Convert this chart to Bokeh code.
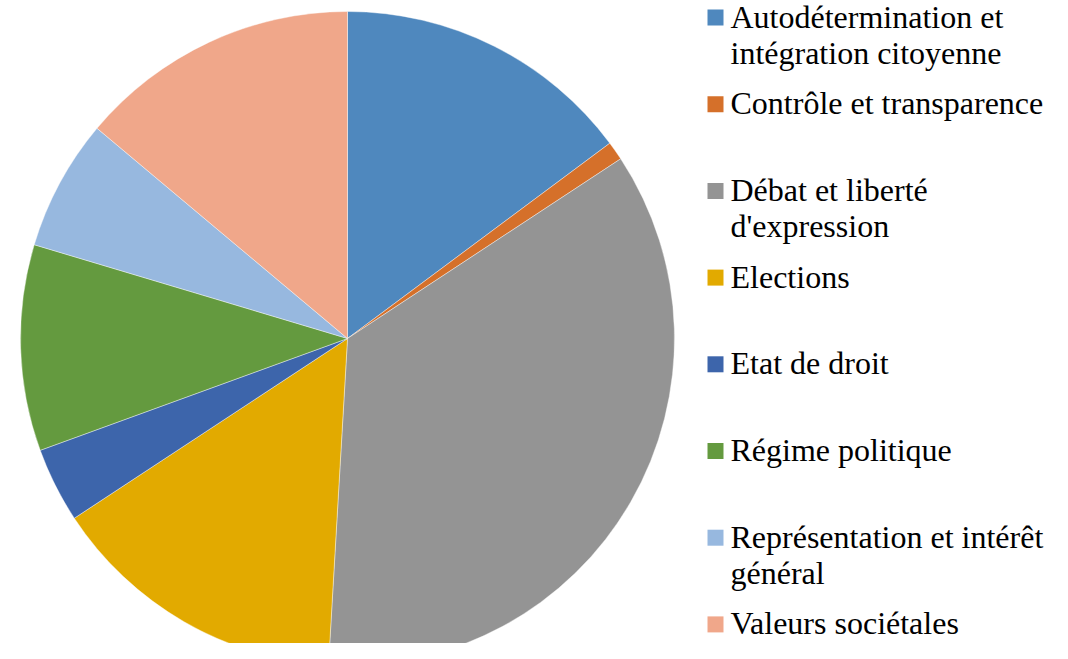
import numpy as np
from bokeh.plotting import figure
from bokeh.models import Range1d, ColumnDataSource
from bokeh.core.properties import value
from bokeh.embed import file_html
from bokeh.resources import INLINE

# ---- data ----
categories = [
    "Autodétermination et\nintégration citoyenne",
    "Contrôle et transparence",
    "Débat et liberté\nd'expression",
    "Elections",
    "Etat de droit",
    "Régime politique",
    "Représentation et intérêt\ngénéral",
    "Valeurs sociétales",
]
counts = [16, 1, 38, 16, 4, 11, 7, 15]
colors = ["#4F88BE", "#D5702A", "#949494", "#E2AA00",
          "#3D65AB", "#649A3F", "#97B8DF", "#F0A78A"]

W, H = 1052, 643
p = figure(width=W, height=H, output_backend="svg", toolbar_location=None,
           x_range=Range1d(0, W), y_range=Range1d(0, H),
           x_axis_location=None, y_axis_location=None, min_border=0)
p.grid.visible = False
p.outline_line_color = None
p.background_fill_color = "white"

# ---- pie ----
vals = np.array(counts, dtype=float)
frac = vals / vals.sum()
cum = np.concatenate([[0.0], np.cumsum(frac)])
start = np.pi / 2 - 2 * np.pi * cum[:-1]
end = np.pi / 2 - 2 * np.pi * cum[1:]
cx, cy, r = 347, H - 338, 327
src = ColumnDataSource(dict(start=start, end=end, color=colors))
p.wedge(x=cx, y=cy, radius=r, start_angle="start", end_angle="end",
        direction="clock", fill_color="color", line_color="white",
        line_width=0.4, source=src)

# ---- legend (manual) ----
sq_x = 715
txt_x = 730
step = 86.7
first = 17
line_gap = 36
sq_y = [H - (first + i * step) for i in range(len(categories))]
p.scatter(x=[sq_x] * len(categories), y=sq_y, marker="square", size=16,
          fill_color=colors, line_color=None)

tx, ty, tt = [], [], []
for i, lab in enumerate(categories):
    for j, line in enumerate(lab.split("\n")):
        tx.append(txt_x)
        ty.append(sq_y[i] + 1 - j * line_gap)
        tt.append(line)
p.text(x=tx, y=ty, text=tt, text_font=value("Liberation Serif"),
       text_font_size="32px", text_color="#000000",
       text_baseline="alphabetic", text_align="left")

open("out.html", "w").write(file_html(p, INLINE))
